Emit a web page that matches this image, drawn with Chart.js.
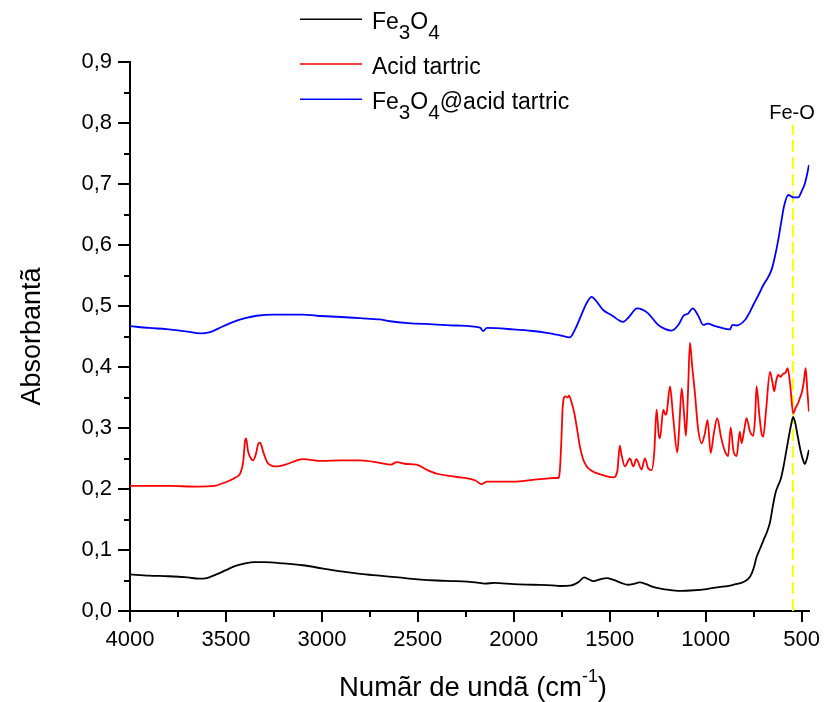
<!DOCTYPE html>
<html>
<head>
<meta charset="utf-8">
<script src="https://cdn.jsdelivr.net/npm/chart.js@4/dist/chart.umd.min.js"></script>
<style>
html,body{margin:0;padding:0;background:#fff;}
#wrap{width:828px;height:702px;position:relative;}
</style>
</head>
<body>
<div id="wrap"><canvas id="c" width="828" height="702"></canvas></div>
<script>
// ---- data ----
const fe3o4Wavenumber = [4000,3900,3800,3700,3640,3600,3550,3500,3450,3400,3350,3300,3200,3100,3000,2900,2800,2700,2600,2500,2400,2300,2200,2150,2100,2000,1900,1800,1760,1700,1660,1634,1610,1586,1550,1516,1480,1440,1404,1380,1343,1310,1270,1238,1200,1134,1060,995,930,856,800,769,750,735,717,700,680,665,650,635,622,610,596,580,570,555,544,533,523,505,490,483,475,462];
const fe3o4Absorbance = [0.060,0.058,0.057,0.055,0.053,0.054,0.060,0.067,0.074,0.078,0.080,0.080,0.078,0.075,0.070,0.065,0.061,0.058,0.055,0.052,0.050,0.049,0.047,0.045,0.046,0.044,0.043,0.042,0.041,0.042,0.048,0.055,0.052,0.049,0.052,0.054,0.051,0.046,0.043,0.044,0.047,0.044,0.039,0.037,0.035,0.033,0.034,0.036,0.039,0.043,0.048,0.056,0.070,0.088,0.102,0.115,0.130,0.145,0.172,0.195,0.206,0.215,0.234,0.262,0.280,0.305,0.318,0.308,0.291,0.262,0.245,0.241,0.247,0.264];

const tartricWavenumber = [4000,3800,3650,3560,3520,3480,3450,3425,3410,3400,3395,3385,3370,3358,3345,3330,3322,3305,3285,3260,3230,3180,3130,3100,3000,2900,2800,2700,2640,2610,2560,2507,2450,2400,2300,2200,2170,2140,2100,2000,1900,1830,1790,1770,1760,1752,1745,1732,1720,1712,1700,1685,1670,1655,1640,1620,1590,1568,1520,1482,1460,1448,1438,1421,1395,1377,1361,1334,1317,1300,1282,1268,1256,1245,1238,1221,1210,1204,1186,1170,1148,1138,1125,1112,1103,1092,1082,1070,1056,1040,1021,1005,990,974,958,940,920,900,883,870,855,839,822,813,800,787,770,752,742,735,720,708,700,685,665,652,643,632,622,610,596,585,573,560,544,530,518,508,500,489,479,470,462];
const tartricAbsorbance = [0.205,0.205,0.204,0.205,0.209,0.214,0.219,0.226,0.245,0.280,0.283,0.262,0.250,0.247,0.256,0.275,0.276,0.260,0.244,0.238,0.237,0.241,0.247,0.249,0.246,0.247,0.247,0.243,0.240,0.244,0.241,0.240,0.231,0.225,0.220,0.214,0.208,0.212,0.212,0.212,0.215,0.217,0.218,0.218,0.230,0.280,0.335,0.352,0.350,0.353,0.343,0.325,0.298,0.269,0.250,0.237,0.229,0.226,0.221,0.219,0.230,0.271,0.255,0.237,0.250,0.237,0.249,0.232,0.250,0.234,0.231,0.260,0.330,0.290,0.283,0.330,0.322,0.324,0.368,0.320,0.260,0.300,0.365,0.320,0.287,0.360,0.440,0.400,0.357,0.300,0.275,0.290,0.313,0.259,0.290,0.316,0.285,0.262,0.254,0.301,0.262,0.254,0.294,0.275,0.295,0.316,0.295,0.287,0.320,0.368,0.320,0.290,0.286,0.330,0.392,0.375,0.360,0.378,0.387,0.384,0.389,0.390,0.398,0.372,0.324,0.334,0.341,0.350,0.357,0.375,0.398,0.360,0.327];

const compositeWavenumber = [4000,3900,3809,3700,3635,3583,3540,3461,3400,3340,3250,3201,3100,3027,2900,2801,2700,2645,2550,2420,2300,2176,2160,2140,2003,1900,1829,1760,1707,1680,1655,1620,1594,1570,1534,1490,1430,1400,1357,1330,1300,1248,1210,1178,1140,1117,1090,1068,1040,1013,990,950,926,874,860,840,795,770,752,725,700,675,656,640,622,605,592,570,555,544,518,500,483,470,462];
const compositeAbsorbance = [0.467,0.464,0.462,0.458,0.455,0.457,0.463,0.474,0.480,0.484,0.486,0.486,0.486,0.484,0.482,0.480,0.478,0.475,0.472,0.470,0.468,0.4645,0.459,0.464,0.4617,0.459,0.456,0.452,0.4486,0.462,0.480,0.505,0.515,0.508,0.4934,0.485,0.474,0.482,0.496,0.494,0.488,0.469,0.462,0.4595,0.470,0.4836,0.488,0.496,0.485,0.469,0.471,0.467,0.465,0.4617,0.469,0.468,0.477,0.490,0.5016,0.518,0.534,0.547,0.560,0.580,0.608,0.640,0.663,0.682,0.680,0.678,0.678,0.688,0.701,0.718,0.731];

const seriesNames = ['Fe3O4', 'Acid tartric', 'Fe3O4@acid tartric'];
const xTickValues = [500,750,1000,1250,1500,1750,2000,2250,2500,2750,3000,3250,3500,3750,4000];
const yTickValues = [0,0.05,0.1,0.15,0.2,0.25,0.3,0.35,0.4,0.45,0.5,0.55,0.6,0.65,0.7,0.75,0.8,0.85,0.9];
const feOWavenumber = 545;
const feOLineRange = [0, 0.797];
const feOLabel = 'Fe-O';

// ---- drawing ----
const FONT = '"Liberation Sans", Arial, sans-serif';
const toPts = (xs, ys) => xs.map((w, i) => ({x: w, y: ys[i]}));

function segWidth(ctx, s, size) {
  const fs = s.sub ? size * 0.9 : s.sup ? size * 0.65 : size;
  ctx.font = fs + 'px ' + FONT;
  return ctx.measureText(s.t).width;
}
function drawRich(ctx, segs, x, y, size, align) {
  let total = 0;
  segs.forEach(s => { total += segWidth(ctx, s, size); });
  let cx = align === 'center' ? x - total / 2 : x;
  ctx.textAlign = 'left';
  ctx.textBaseline = 'alphabetic';
  segs.forEach(s => {
    const w = segWidth(ctx, s, size);
    const dy = s.sub ? size * 0.43 : s.sup ? -size * 0.52 : 0;
    ctx.fillText(s.t, cx, y + dy);
    cx += w;
  });
}
function chemSegs(name) {
  const out = [];
  const re = /(\d+)|([^\d]+)/g; let m;
  while ((m = re.exec(name))) {
    if (m[1]) out.push({t: m[1], sub: true}); else out.push({t: m[2]});
  }
  return out;
}

const colors = ['#000000', '#ff0000', '#0000ff'];

const decor = {
  id: 'decor',
  afterDraw(chart) {
    const {ctx, chartArea: a, scales: {x, y}} = chart;
    ctx.save();
    ctx.strokeStyle = '#000';
    ctx.lineWidth = 2;
    ctx.beginPath();
    xTickValues.forEach(v => {
      const px = Math.round(x.getPixelForValue(v));
      const len = v % 500 === 0 ? 11 : 6;
      ctx.moveTo(px, a.bottom); ctx.lineTo(px, a.bottom + len);
    });
    yTickValues.forEach(v => {
      const py = Math.round(y.getPixelForValue(v));
      const major = Math.round(v * 100) % 10 === 0;
      const len = major ? 12 : 6;
      ctx.moveTo(a.left, py); ctx.lineTo(a.left - len, py);
    });
    ctx.stroke();

    // legend
    const rows = [19.3, 64, 99.3];
    ctx.fillStyle = '#000';
    seriesNames.forEach((n, i) => {
      ctx.strokeStyle = colors[i];
      ctx.lineWidth = 1.6;
      ctx.beginPath();
      ctx.moveTo(300, rows[i]); ctx.lineTo(362, rows[i]);
      ctx.stroke();
      drawRich(ctx, chemSegs(n), 372, rows[i] + 9.5, 23, 'left');
    });

    // Fe-O label
    ctx.font = '20px ' + FONT;
    ctx.textAlign = 'center';
    ctx.textBaseline = 'alphabetic';
    ctx.fillText(feOLabel, x.getPixelForValue(feOWavenumber) - 1, y.getPixelForValue(0.806));

    // axis titles
    drawRich(ctx, [{t: 'Numãr de undã (cm'}, {t: '-1', sup: true}, {t: ')'}], 473, 696, 27.5, 'center');
    ctx.save();
    ctx.translate(40, (a.top + a.bottom) / 2);
    ctx.rotate(-Math.PI / 2);
    ctx.font = '27px ' + FONT;
    ctx.textAlign = 'center';
    ctx.textBaseline = 'alphabetic';
    ctx.fillText('Absorbantã', 0, 0);
    ctx.restore();
    ctx.restore();
  }
};

const tickFont = {family: FONT, size: 22};

new Chart(document.getElementById('c'), {
  type: 'line',
  data: {
    datasets: [
      {label: seriesNames[0], data: toPts(fe3o4Wavenumber, fe3o4Absorbance), borderColor: colors[0], borderWidth: 1.8, cubicInterpolationMode: 'monotone'},
      {label: seriesNames[1], data: toPts(tartricWavenumber, tartricAbsorbance), borderColor: colors[1], borderWidth: 1.8, cubicInterpolationMode: 'monotone'},
      {label: seriesNames[2], data: toPts(compositeWavenumber, compositeAbsorbance), borderColor: colors[2], borderWidth: 1.8, cubicInterpolationMode: 'monotone'},
      {label: feOLabel, data: [{x: feOWavenumber, y: feOLineRange[0]}, {x: feOWavenumber, y: feOLineRange[1]}], borderColor: '#ffff00', borderWidth: 2, borderDash: [12, 5], tension: 0}
    ]
  },
  options: {
    responsive: false,
    animation: false,
    devicePixelRatio: 1,
    layout: {padding: {left: 0, top: 62, right: 18.7, bottom: 0}},
    plugins: {legend: {display: false}, tooltip: {enabled: false}, title: {display: false}},
    elements: {point: {radius: 0, hoverRadius: 0}},
    scales: {
      x: {
        type: 'linear', reverse: true, min: 460, max: 4000,
        afterBuildTicks: s => { s.ticks = xTickValues.map(v => ({value: v})); },
        afterFit: s => { s.height = 91; s.paddingLeft = 0; s.paddingRight = 0; },
        grid: {display: false, drawTicks: false},
        border: {display: true, color: '#000', width: 2},
        ticks: {padding: 15.5, color: '#000', font: tickFont, maxRotation: 0, autoSkip: false,
          callback: v => (Math.round(v) % 500 === 0 ? String(Math.round(v)) : '')}
      },
      y: {
        type: 'linear', min: 0, max: 0.9,
        afterBuildTicks: s => { s.ticks = yTickValues.map(v => ({value: v})); },
        afterFit: s => { s.width = 130; s.paddingTop = 0; s.paddingBottom = 0; },
        grid: {display: false, drawTicks: false},
        border: {display: true, color: '#000', width: 2},
        ticks: {padding: 18, color: '#000', font: tickFont, autoSkip: false,
          callback: v => (Math.round(v * 100) % 10 === 0 ? v.toFixed(1).replace('.', ',') : '')}
      }
    }
  },
  plugins: [decor]
});
</script>
</body>
</html>
